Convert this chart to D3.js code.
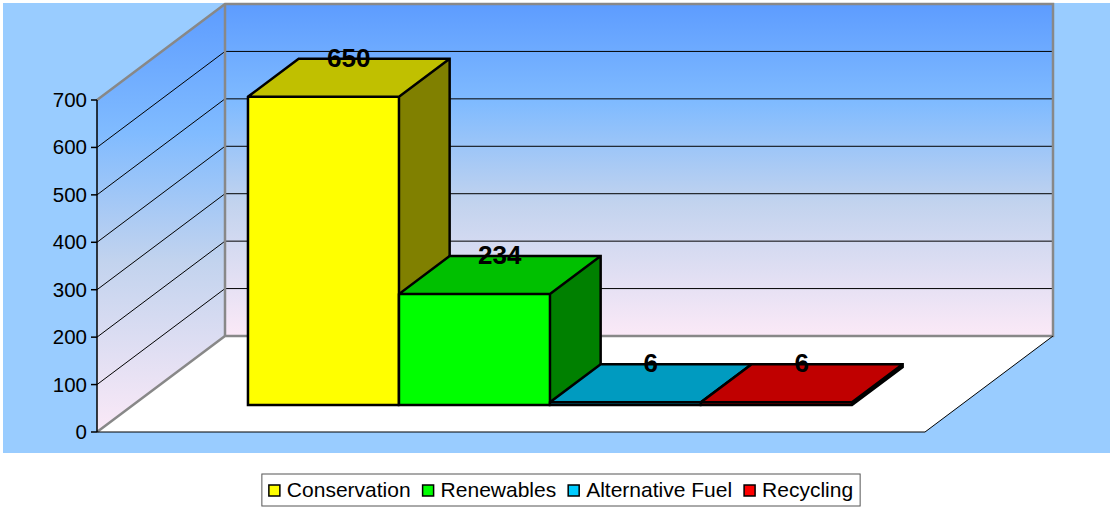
<!DOCTYPE html>
<html>
<head>
<meta charset="utf-8">
<script src="https://cdn.jsdelivr.net/npm/d3@7"></script>
<style>
    body { margin: 0; background: #ffffff; }
    svg { display: block; font-family: "Liberation Sans", Arial, sans-serif; }
</style>
</head>
<body>
<svg id="canvas" width="1110" height="510"></svg>
<script>
// chart data
const series = ['Conservation', 'Renewables', 'Alternative Fuel', 'Recycling']
const values = [650, 234, 6, 6]
const yTicks = [0, 100, 200, 300, 400, 500, 600, 700]

// face colours: front, top, side
const frontColors = ['#ffff00', '#00ff00', '#00ccff', '#ff0000']
const topColors = ['#c0c000', '#00c000', '#009bc0', '#c00000']
const sideColors = ['#808000', '#008000', '#006680', '#800000']

let canvas = d3.select('#canvas')

// 3d box: front plane origin, depth offsets
let x0 = 97
let y0 = 432
let plotWidth = 828
let depthX = 128
let depthY = 96
let barFront = 0.281
let barBack = 0.677

let yScale = d3.scaleLinear().domain([0, 700]).range([0, 332])
let xScale = d3.scaleBand().domain(series).range([115, 719]).paddingInner(0)

let proj = (x, v, z) => [x0 + x + z * depthX, y0 - yScale(v) - z * depthY]
let poly = (pts) => pts.map(p => p.join(',')).join(' ')

let defs = canvas.append('defs')
let grad = defs.append('linearGradient')
    .attr('id', 'wallgrad')
    .attr('x1', 0).attr('y1', 0).attr('x2', 0).attr('y2', 1)
grad.selectAll('stop')
    .data([['0', '#5d9cff'], ['0.3', '#80bbff'], ['0.6', '#c2d3ee'], ['1', '#fbe9f7']])
    .enter()
    .append('stop')
    .attr('offset', d => d[0])
    .attr('stop-color', d => d[1])

// chart area background
canvas.append('rect')
    .attr('x', 3).attr('y', 3)
    .attr('width', 1107).attr('height', 450)
    .attr('fill', '#99ccff')

let maxV = yScale.domain()[1]

// back wall
canvas.append('polygon')
    .attr('points', poly([proj(0, maxV, 1), proj(plotWidth, maxV, 1), proj(plotWidth, 0, 1), proj(0, 0, 1)]))
    .attr('fill', 'url(#wallgrad)')

// left wall
canvas.append('polygon')
    .attr('points', poly([proj(0, maxV, 0), proj(0, maxV, 1), proj(0, 0, 1), proj(0, 0, 0)]))
    .attr('fill', 'url(#wallgrad)')

// floor
canvas.append('polygon')
    .attr('points', poly([proj(0, 0, 0), proj(plotWidth, 0, 0), proj(plotWidth, 0, 1), proj(0, 0, 1)]))
    .attr('fill', '#ffffff')

// gridlines
let inner = yTicks.filter(t => t > 0 && t < maxV)
canvas.append('g')
    .selectAll('line')
    .data(inner)
    .enter()
    .append('line')
    .attr('x1', t => proj(0, t, 1)[0]).attr('y1', t => proj(0, t, 1)[1])
    .attr('x2', t => proj(plotWidth, t, 1)[0]).attr('y2', t => proj(plotWidth, t, 1)[1])
    .attr('stroke', '#000').attr('stroke-width', 1)
canvas.append('g')
    .selectAll('line')
    .data(inner)
    .enter()
    .append('line')
    .attr('x1', t => proj(0, t, 0)[0]).attr('y1', t => proj(0, t, 0)[1])
    .attr('x2', t => proj(0, t, 1)[0]).attr('y2', t => proj(0, t, 1)[1])
    .attr('stroke', '#000').attr('stroke-width', 1)

// wall borders (grey)
let grey = '#888888'
canvas.append('polyline')
    .attr('points', poly([proj(0, maxV, 0), proj(0, maxV, 1), proj(plotWidth, maxV, 1), proj(plotWidth, 0, 1), proj(0, 0, 1), proj(0, 0, 0)]))
    .attr('fill', 'none').attr('stroke', grey).attr('stroke-width', 2.5)
canvas.append('line')
    .attr('x1', proj(0, maxV, 1)[0]).attr('y1', proj(0, maxV, 1)[1])
    .attr('x2', proj(0, 0, 1)[0]).attr('y2', proj(0, 0, 1)[1])
    .attr('stroke', grey).attr('stroke-width', 2.5)

// floor front and right edges
canvas.append('polyline')
    .attr('points', poly([proj(0, 0, 0), proj(plotWidth, 0, 0), proj(plotWidth, 0, 1)]))
    .attr('fill', 'none').attr('stroke', '#000').attr('stroke-width', 1)

// value axis
canvas.append('line')
    .attr('x1', x0).attr('y1', proj(0, maxV, 0)[1])
    .attr('x2', x0).attr('y2', y0)
    .attr('stroke', '#000').attr('stroke-width', 1.5)

let axis = canvas.append('g')
axis.selectAll('line')
    .data(yTicks)
    .enter()
    .append('line')
    .attr('x1', x0 - 6).attr('x2', x0)
    .attr('y1', t => proj(0, t, 0)[1]).attr('y2', t => proj(0, t, 0)[1])
    .attr('stroke', '#000').attr('stroke-width', 1.5)
axis.selectAll('text')
    .data(yTicks)
    .enter()
    .append('text')
    .attr('x', x0 - 10)
    .attr('y', t => proj(0, t, 0)[1] + 7)
    .attr('text-anchor', 'end')
    .attr('font-size', '20.5px')
    .attr('fill', '#000')
    .text(t => t)

// bars, left to right so the next front face covers the previous side
let bars = canvas.append('g')
series.forEach((name, i) => {
    let xl = xScale(name)
    let xr = xl + xScale.bandwidth()
    let v = values[i]
    let g = bars.append('g').attr('class', 'bar')

    g.append('polygon')
        .attr('points', poly([proj(xr, 0, barFront), proj(xr, 0, barBack), proj(xr, v, barBack), proj(xr, v, barFront)]))
        .attr('fill', sideColors[i])
    g.append('polygon')
        .attr('points', poly([proj(xl, v, barFront), proj(xl, v, barBack), proj(xr, v, barBack), proj(xr, v, barFront)]))
        .attr('fill', topColors[i])
    g.append('polygon')
        .attr('points', poly([proj(xl, 0, barFront), proj(xr, 0, barFront), proj(xr, v, barFront), proj(xl, v, barFront)]))
        .attr('fill', frontColors[i])

    // outline
    g.append('path')
        .attr('d', [
            'M' + proj(xl, 0, barFront), 'L' + proj(xr, 0, barFront), 'L' + proj(xr, 0, barBack),
            'L' + proj(xr, v, barBack), 'L' + proj(xl, v, barBack), 'L' + proj(xl, v, barFront), 'Z',
            'M' + proj(xl, v, barFront), 'L' + proj(xr, v, barFront), 'L' + proj(xr, 0, barFront),
            'M' + proj(xr, v, barFront), 'L' + proj(xr, v, barBack)
        ].join(' '))
        .attr('fill', 'none')
        .attr('stroke', '#000')
        .attr('stroke-width', 2.5)
        .attr('stroke-linejoin', 'miter')
})

// data labels
canvas.append('g')
    .selectAll('text')
    .data(series)
    .enter()
    .append('text')
    .attr('x', (d) => proj(xScale(d) + xScale.bandwidth() / 2, 0, (barFront + barBack) / 2)[0])
    .attr('y', (d, i) => proj(0, values[i], barBack)[1] + 8)
    .attr('text-anchor', 'middle')
    .attr('font-size', '26px')
    .attr('font-weight', 'bold')
    .attr('fill', '#000')
    .text((d, i) => values[i])

// legend
let legend = canvas.append('g')
let legendBox = legend.append('rect')
    .attr('fill', '#ffffff')
    .attr('stroke', '#555')
    .attr('stroke-width', 1)
let items = legend.append('g')
let cursor = 0
let itemGap = 12
series.forEach((name, i) => {
    let it = items.append('g').attr('transform', `translate(${cursor},0)`)
    it.append('rect')
        .attr('x', 0).attr('y', -12)
        .attr('width', 11).attr('height', 11)
        .attr('fill', frontColors[i])
        .attr('stroke', '#000').attr('stroke-width', 1.5)
    let t = it.append('text')
        .attr('x', 18).attr('y', 0)
        .attr('font-size', '21px')
        .attr('fill', '#000')
        .text(name)
    cursor += 18 + t.node().getComputedTextLength() + itemGap
})
let itemsWidth = cursor - itemGap
let legendCx = 561
let legendY = 497
items.attr('transform', `translate(${legendCx - itemsWidth / 2},${legendY})`)
legendBox
    .attr('x', legendCx - itemsWidth / 2 - 7).attr('y', 474)
    .attr('width', itemsWidth + 14).attr('height', 32)
</script>
</body>
</html>
